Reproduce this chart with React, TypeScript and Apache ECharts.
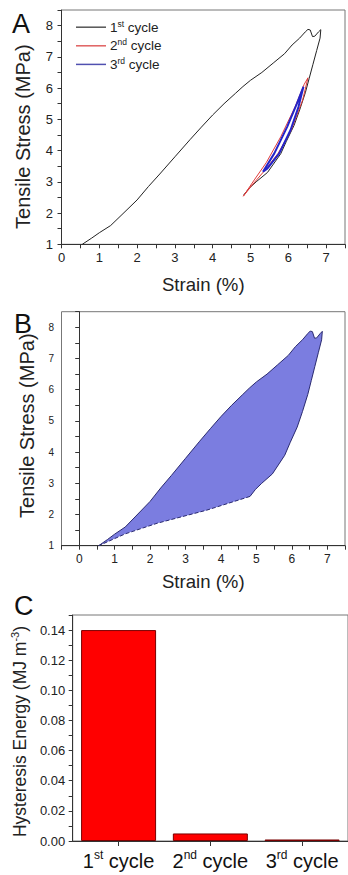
import React, { useEffect, useRef } from 'react';
import * as echarts from 'echarts';

const FONT = '"Liberation Sans", Arial, Helvetica, sans-serif';

// Panel A / B : 1st cycle (loading then unloading)
const cycle1Strain = [0.55, 0.8, 1.0, 1.3, 1.6, 2.0, 2.3, 2.6, 3.0, 3.4, 3.7, 4.0, 4.3, 4.6, 4.8, 5.0, 5.3, 5.6, 5.9, 6.1, 6.3, 6.45, 6.52, 6.58, 6.64, 6.7, 6.8, 6.86, 6.84, 6.75, 6.65, 6.55, 6.45, 6.3, 6.15, 5.95, 5.8, 5.45, 5.15, 4.97, 4.82];
const cycle1Stress = [1.0, 1.2, 1.37, 1.6, 1.95, 2.42, 2.85, 3.25, 3.8, 4.35, 4.75, 5.14, 5.5, 5.83, 6.05, 6.25, 6.5, 6.8, 7.1, 7.38, 7.6, 7.8, 7.88, 7.86, 7.65, 7.66, 7.8, 7.87, 7.6, 7.2, 6.75, 6.3, 5.85, 5.3, 4.8, 4.3, 3.9, 3.3, 3.0, 2.8, 2.58];

// 2nd cycle loop
const cycle2Strain = [4.81, 5.1, 5.42, 5.8, 6.18, 6.42, 6.52, 6.38, 6.08, 5.73, 5.38, 5.04, 4.81];
const cycle2Stress = [2.54, 3.06, 3.62, 4.44, 5.4, 6.12, 6.33, 5.62, 4.66, 3.91, 3.37, 2.89, 2.54];

// 3rd cycle loop
const cycle3Strain = [5.33, 5.63, 5.97, 6.23, 6.4, 6.27, 6.06, 5.76, 5.45, 5.33];
const cycle3Stress = [3.32, 3.91, 4.76, 5.51, 6.04, 5.4, 4.66, 3.91, 3.43, 3.32];

// Panel B dashed closing line (end of unloading back to start)
const closeStrain = [4.82, 3.6, 2.2, 1.3, 0.55];
const closeStress = [2.58, 2.14, 1.72, 1.38, 1.0];

// Panel C
const cycleNames = ['1st cycle', '2nd cycle', '3rd cycle'];
const hysteresisEnergy = [0.14, 0.005, 0.001];

const zip = (xs: number[], ys: number[]) => xs.map((x, i) => [x, ys[i]]);

const intLabel = (v: number) => (Math.abs(v - Math.round(v)) < 1e-6 ? String(Math.round(v)) : '');
const evenLabel = (v: number) => {
  const k = Math.round(v * 100);
  return k % 2 === 0 ? (k / 100).toFixed(2) : '';
};

const supFormatter = (big: string, small: string) => (name: string) => {
  const m = name.match(/^(\d)(\w+) (.*)$/);
  if (!m) return name;
  return `{${big}|${m[1]}}{${small}|${m[2]}}{${big}| ${m[3]}}`;
};

export default function App() {
  const ref = useRef<HTMLDivElement>(null);
  useEffect(() => {
    if (!ref.current) return;
    const chart = echarts.init(ref.current, undefined, { renderer: 'svg' });
    const axisLine = { show: true, lineStyle: { color: '#333', width: 1 } };
    const tick = { show: true, length: 4, lineStyle: { color: '#333' } };
    const c1 = zip(cycle1Strain, cycle1Stress);
    const polygonData = c1.concat(zip(closeStrain, closeStress).slice(1));

    const option: any = {
      animation: false,
      textStyle: { fontFamily: FONT },
      grid: [
        { left: 61.5, top: 10, width: 291.5, height: 234.3, show: true, borderColor: '#777', borderWidth: 1 },
        { left: 61.5, top: 311.7, width: 288.8, height: 234, show: true, borderColor: '#777', borderWidth: 1 },
        { left: 72.7, top: 615, width: 281, height: 226, show: true, borderColor: '#777', borderWidth: 1 },
      ],
      legend: {
        left: 76,
        top: 19.2,
        padding: 0,
        orient: 'vertical',
        icon: 'rect',
        itemWidth: 30,
        itemHeight: 1.5,
        itemGap: 3.6,
        data: cycleNames,
        formatter: supFormatter('n', 's'),
        textStyle: {
          fontFamily: FONT,
          color: '#222',
          padding: [0, 0, 0, -1],
          rich: {
            n: { fontSize: 13.5, lineHeight: 16, fontFamily: FONT, color: '#222' },
            s: { fontSize: 8.5, lineHeight: 12, verticalAlign: 'top', fontFamily: FONT, color: '#222' },
          },
        },
      },
      xAxis: [
        {
          type: 'value', gridIndex: 0, min: 0, max: 7.5, interval: 0.5,
          axisLine, axisTick: tick, splitLine: { show: false },
          axisLabel: { formatter: intLabel, fontSize: 13, margin: 7, color: '#222', fontFamily: FONT },
          name: 'Strain (%)', nameLocation: 'middle', nameGap: 31,
          nameTextStyle: { fontSize: 18.6, color: '#222', fontFamily: FONT },
        },
        {
          type: 'value', gridIndex: 1, min: -0.5, max: 7.5, interval: 0.5,
          axisLine, axisTick: tick, splitLine: { show: false },
          axisLabel: { formatter: intLabel, fontSize: 12, margin: 7, color: '#222', fontFamily: FONT },
          name: 'Strain (%)', nameLocation: 'middle', nameGap: 26,
          nameTextStyle: { fontSize: 18.6, color: '#222', fontFamily: FONT },
        },
        {
          type: 'category', gridIndex: 2, data: cycleNames,
          axisLine, axisTick: { show: true, alignWithLabel: true, length: 5, lineStyle: { color: '#333' } },
          axisLabel: {
            interval: 0,
            formatter: supFormatter('n', 's'), margin: 8, color: '#111',
            rich: {
              n: { fontSize: 20, lineHeight: 24, fontFamily: FONT, color: '#111' },
              s: { fontSize: 12, lineHeight: 16, verticalAlign: 'top', fontFamily: FONT, color: '#111' },
            },
          },
        },
      ],
      yAxis: [
        {
          type: 'value', gridIndex: 0, min: 1, max: 8.5, interval: 0.5,
          axisLine, axisTick: tick, splitLine: { show: false },
          axisLabel: { formatter: intLabel, fontSize: 13, margin: 8.5, color: '#222', fontFamily: FONT },
          name: 'Tensile Stress (MPa)', nameLocation: 'middle', nameGap: 28.5,
          nameTextStyle: { fontSize: 20, color: '#222', fontFamily: FONT, padding: [0, 19, 0, 0] },
        },
        {
          type: 'value', gridIndex: 1, min: 1, max: 8.5, interval: 0.5,
          axisLine, axisTick: tick, splitLine: { show: false },
          axisLabel: { formatter: intLabel, fontSize: 10, margin: 7.5, color: '#222', fontFamily: FONT },
          name: 'Tensile Stress (MPa)', nameLocation: 'middle', nameGap: 25,
          nameTextStyle: { fontSize: 20, color: '#222', fontFamily: FONT, padding: [0, 0, 0, 6] },
        },
        {
          type: 'value', gridIndex: 2, min: 0, max: 0.15, interval: 0.01,
          axisLine, axisTick: tick, splitLine: { show: false },
          axisLabel: { formatter: evenLabel, fontSize: 13, margin: 7.5, color: '#222', fontFamily: FONT },
          name: '{n|Hysteresis Energy (MJ m}{s|-3}{n|)}', nameLocation: 'middle', nameGap: 38,
          nameTextStyle: {
            color: '#222', fontFamily: FONT, padding: [0, 7, 0, 0],
            rich: {
              n: { fontSize: 17.5, lineHeight: 20, fontFamily: FONT, color: '#222' },
              s: { fontSize: 11, lineHeight: 13, verticalAlign: 'top', fontFamily: FONT, color: '#222' },
            },
          },
        },
      ],
      series: [
        {
          name: '1st cycle', type: 'line', xAxisIndex: 0, yAxisIndex: 0, data: c1,
          showSymbol: false, symbol: 'none', lineStyle: { color: '#222', width: 1 }, itemStyle: { color: '#555' },
        },
        {
          name: '2nd cycle', type: 'line', xAxisIndex: 0, yAxisIndex: 0, data: zip(cycle2Strain, cycle2Stress),
          showSymbol: false, symbol: 'none', lineStyle: { color: '#e03a3a', width: 1 }, itemStyle: { color: '#e06060' },
        },
        {
          name: '3rd cycle', type: 'line', xAxisIndex: 0, yAxisIndex: 0, data: zip(cycle3Strain, cycle3Stress),
          showSymbol: false, symbol: 'none', lineStyle: { color: '#2424c8', width: 2 }, itemStyle: { color: '#5050b0' },
        },
        {
          type: 'custom', xAxisIndex: 1, yAxisIndex: 1, data: [polygonData[0]],
          renderItem: (_params: any, api: any) => ({
            type: 'polygon',
            shape: { points: polygonData.map((p) => api.coord(p)) },
            style: { fill: '#7b7de0', stroke: 'none' },
          }),
          silent: true, z: 1,
        },
        {
          type: 'line', xAxisIndex: 1, yAxisIndex: 1, data: c1,
          showSymbol: false, symbol: 'none', lineStyle: { color: '#2a2a70', width: 1 }, z: 3,
        },
        {
          type: 'line', xAxisIndex: 1, yAxisIndex: 1, data: zip(closeStrain, closeStress),
          showSymbol: false, symbol: 'none', lineStyle: { color: '#2a2a70', width: 1, type: [4, 2] }, z: 3,
        },
        {
          type: 'bar', xAxisIndex: 2, yAxisIndex: 2, data: hysteresisEnergy, barWidth: 75,
          itemStyle: { color: '#ff0000', borderColor: '#7a0000', borderWidth: 1 },
        },
      ],
      graphic: [
        { type: 'text', left: 12, top: 10, style: { text: 'A', fontSize: 27, fontFamily: FONT, fill: '#111' } },
        { type: 'text', left: 14, top: 310, style: { text: 'B', fontSize: 27, fontFamily: FONT, fill: '#111' } },
        { type: 'text', left: 14, top: 592, style: { text: 'C', fontSize: 27, fontFamily: FONT, fill: '#111' } },
      ],
    };
    chart.setOption(option);
    return () => chart.dispose();
  }, []);
  return <div ref={ref} style={{ position: 'absolute', left: 0, top: 0, width: 348, height: 875 }} />;
}
